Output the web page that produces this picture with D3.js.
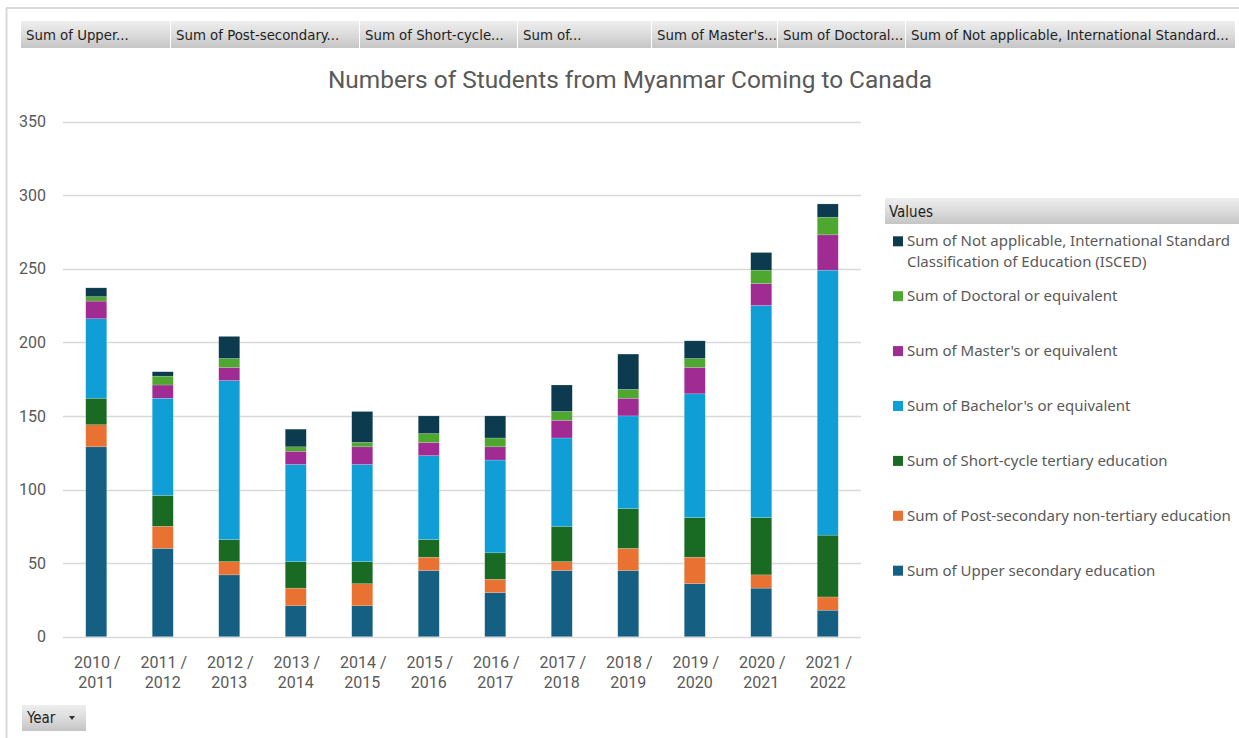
<!DOCTYPE html>
<html>
<head>
<meta charset="utf-8">
<script src="https://cdn.jsdelivr.net/npm/d3@7"></script>
<style>
  html, body { margin: 0; padding: 0; background: #ffffff; }
  svg { display: block; }
</style>
</head>
<body>
<svg id="chart" width="1239" height="738"></svg>
<script>
// Academic years on the category axis
const years = ["2010 / 2011", "2011 / 2012", "2012 / 2013", "2013 / 2014", "2014 / 2015", "2015 / 2016",
               "2016 / 2017", "2017 / 2018", "2018 / 2019", "2019 / 2020", "2020 / 2021", "2021 / 2022"];

// Students per ISCED level, one value per academic year
const upperSecondary = [129, 60, 42, 21, 21, 45, 30, 45, 45, 36, 33, 18];
const postSecondary  = [15, 15, 9, 12, 15, 9, 9, 6, 15, 18, 9, 9];
const shortCycle     = [18, 21, 15, 18, 15, 12, 18, 24, 27, 27, 39, 42];
const bachelors      = [54, 66, 108, 66, 66, 57, 63, 60, 63, 84, 144, 180];
const masters        = [12, 9, 9, 9, 12, 9, 9, 12, 12, 18, 15, 24];
const doctoral       = [3, 6, 6, 3, 3, 6, 6, 6, 6, 6, 9, 12];
const notApplicable  = [6, 3, 15, 12, 21, 12, 15, 18, 24, 12, 12, 9];

// Series names, bottom of the stack first
const seriesNames = [
  "Sum of Upper secondary education",
  "Sum of Post-secondary non-tertiary education",
  "Sum of Short-cycle tertiary education",
  "Sum of Bachelor's or equivalent",
  "Sum of Master's or equivalent",
  "Sum of Doctoral or equivalent",
  "Sum of Not applicable, International Standard Classification of Education (ISCED)"
];
const seriesValues = [upperSecondary, postSecondary, shortCycle, bachelors, masters, doctoral, notApplicable];
const seriesColors = ["#156082", "#E97132", "#196B24", "#0F9ED5", "#A02B93", "#4EA72E", "#0C3A4E"];

// Field buttons of the pivot chart
const fieldButtons = ["Sum of Upper...", "Sum of Post-secondary...", "Sum of Short-cycle...", "Sum of...",
                      "Sum of Master's...", "Sum of Doctoral...", "Sum of Not applicable, International Standard..."];
const yTicks = [0, 50, 100, 150, 200, 250, 300, 350];

const chartTitle = "Numbers of Students from Myanmar Coming to Canada";

const svg = d3.select("#chart");
const uiFont = "'DejaVu Sans Condensed', 'DejaVu Sans', sans-serif";
const chartFont = "Roboto, 'Liberation Sans', sans-serif";
const legendFont = "'Noto Sans', Roboto, sans-serif";

// gradient used for the pivot buttons
const defs = svg.append("defs");
const grad = defs.append("linearGradient").attr("id", "btnGrad").attr("x1", 0).attr("y1", 0).attr("x2", 0).attr("y2", 1);
grad.append("stop").attr("offset", "0%").attr("stop-color", "#eeeeee");
grad.append("stop").attr("offset", "45%").attr("stop-color", "#dedede");
grad.append("stop").attr("offset", "100%").attr("stop-color", "#c5c5c5");

// outer frame (top and left edges)
svg.append("line").attr("x1", 6).attr("x2", 1239).attr("y1", 8).attr("y2", 8)
  .attr("stroke", "#d9d9d9").attr("stroke-width", 2);
svg.append("line").attr("x1", 6.5).attr("x2", 6.5).attr("y1", 8).attr("y2", 738)
  .attr("stroke", "#d9d9d9").attr("stroke-width", 2);

// field button bar
const btnEdges = [21, 171, 360, 518, 652, 778, 906, 1236];
const btnG = svg.append("g");
fieldButtons.forEach((label, i) => {
  const x0 = btnEdges[i], x1 = btnEdges[i + 1] - 1;
  btnG.append("rect").attr("x", x0).attr("y", 21).attr("width", x1 - x0).attr("height", 27)
    .attr("fill", "url(#btnGrad)");
  btnG.append("text").attr("x", x0 + 5).attr("y", 39.5)
    .attr("font-family", uiFont).attr("font-size", 14.8).attr("fill", "#1e1e1e")
    .text(label);
});

// title
svg.append("text").attr("x", 630).attr("y", 88).attr("text-anchor", "middle")
  .attr("font-family", chartFont).attr("font-size", 24.4).attr("fill", "#595959")
  .text(chartTitle);

// scales
const x = d3.scaleBand().domain(years).range([63, 861]).paddingInner(0.684).paddingOuter(0.342);
const y = d3.scaleLinear().domain([0, 350]).range([636.7, 121.5]);

// gridlines
svg.append("g").selectAll("line").data(yTicks).join("line")
  .attr("x1", 63).attr("x2", 861)
  .attr("y1", d => Math.round(y(d)) + 0.5).attr("y2", d => Math.round(y(d)) + 0.5)
  .attr("stroke", "#d9d9d9").attr("stroke-width", 1.5);

// y axis labels
const yAxis = svg.append("g").attr("transform", "translate(48,0)")
  .call(d3.axisLeft(y).tickValues(yTicks).tickSize(0).tickPadding(2));
yAxis.select(".domain").remove();
yAxis.selectAll("text").attr("font-family", chartFont).attr("font-size", 16).attr("fill", "#595959");

// stacked data
const rows = years.map((yr, i) => {
  const r = { year: yr };
  seriesNames.forEach((s, k) => { r[s] = seriesValues[k][i]; });
  return r;
});
const stacked = d3.stack().keys(seriesNames)(rows);

svg.append("g").selectAll("g").data(stacked).join("g")
  .attr("fill", (d, i) => seriesColors[i])
  .selectAll("rect").data(d => d).join("rect")
  .attr("x", d => x(d.data.year))
  .attr("width", x.bandwidth())
  .attr("y", d => y(d[1]))
  .attr("height", d => y(d[0]) - y(d[1]))
  .attr("stroke", "#ffffff").attr("stroke-opacity", 0.35).attr("stroke-width", 0.5);

// x axis labels, split onto two lines
const xAxis = svg.append("g").attr("transform", "translate(0,636.7)")
  .call(d3.axisBottom(x).tickSize(0).tickFormat(""));
xAxis.select(".domain").remove();
xAxis.selectAll(".tick").each(function (d) {
  const parts = d.split(" / ");
  const t = d3.select(this).append("text")
    .attr("font-family", chartFont).attr("font-size", 16).attr("fill", "#595959")
    .attr("text-anchor", "middle");
  t.append("tspan").attr("x", 1).attr("y", 31).text(parts[0] + " /");
  t.append("tspan").attr("x", 0).attr("y", 51).text(parts[1]);
});

// legend
const lg = svg.append("g");
lg.append("rect").attr("x", 885).attr("y", 198).attr("width", 354).attr("height", 26).attr("fill", "url(#btnGrad)");
lg.append("text").attr("x", 889).attr("y", 216.5).attr("font-family", uiFont).attr("font-size", 15)
  .attr("fill", "#1e1e1e").text("Values");

const legendOrder = d3.range(seriesNames.length).reverse();
legendOrder.forEach((k, i) => {
  const cy = 241.3 + 54.9 * i;
  lg.append("rect").attr("x", 893).attr("y", cy - 5).attr("width", 10).attr("height", 10).attr("fill", seriesColors[k]);
  const t = lg.append("text").attr("font-family", legendFont).attr("font-size", 15).attr("fill", "#595959");
  const name = seriesNames[k];
  if (name.length > 50) {
    t.append("tspan").attr("x", 907).attr("y", cy + 5).text("Sum of Not applicable, International Standard");
    t.append("tspan").attr("x", 907).attr("y", cy + 26).text("Classification of Education (ISCED)");
  } else {
    t.append("tspan").attr("x", 907).attr("y", cy + 5).text(name);
  }
});

// axis field button
const yb = svg.append("g");
yb.append("rect").attr("x", 22).attr("y", 705).attr("width", 64).attr("height", 26).attr("fill", "url(#btnGrad)");
yb.append("text").attr("x", 27).attr("y", 723).attr("font-family", uiFont).attr("font-size", 15)
  .attr("fill", "#1e1e1e").text("Year");
yb.append("path").attr("d", "M69,716 L75,716 L72,720 Z").attr("fill", "#333333");
</script>
</body>
</html>
